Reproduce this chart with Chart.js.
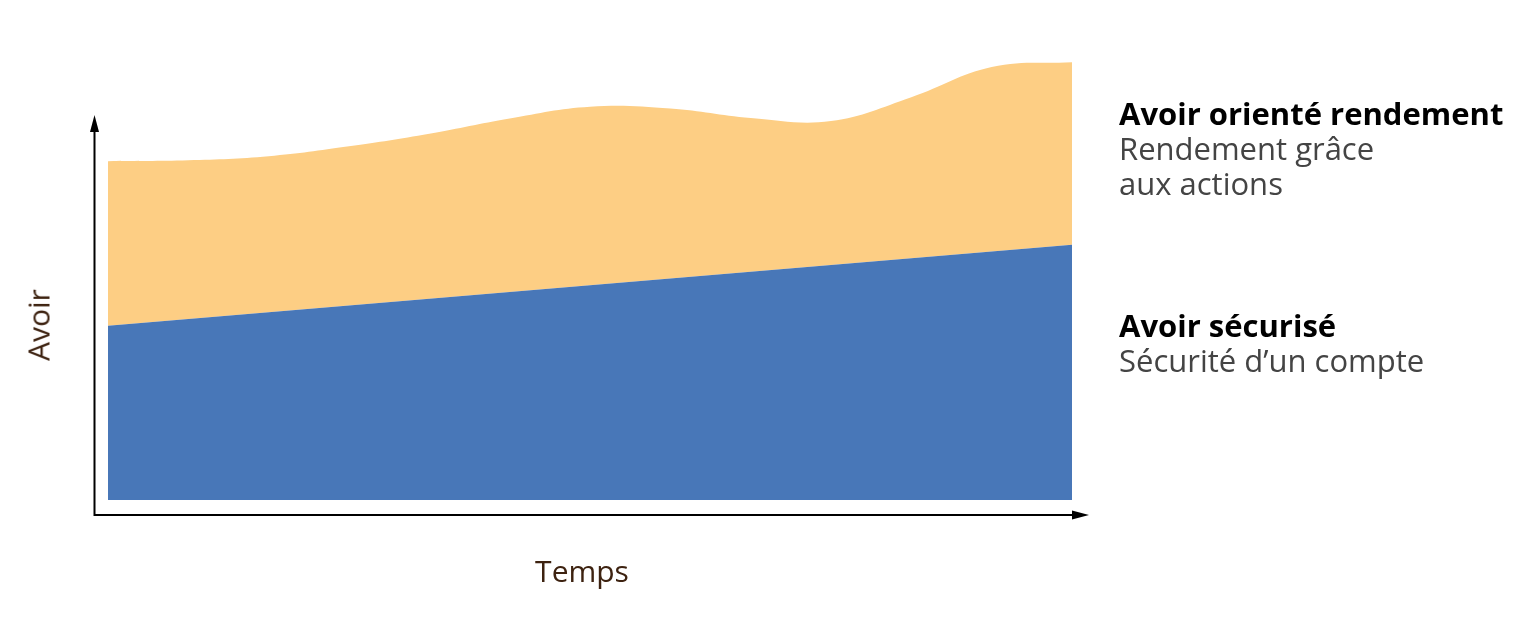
<!DOCTYPE html>
<html>
<head>
<meta charset="utf-8">
<script src="https://cdn.jsdelivr.net/npm/chart.js@4.4.1/dist/chart.umd.min.js"></script>
<style>
  html, body { margin: 0; padding: 0; background: #fff; }
  #wrap { position: relative; width: 1536px; height: 630px; }
  canvas { position: absolute; left: 0; top: 0; }
  .lbl { position: absolute; font-family: "Open Sans", Lato, sans-serif; white-space: nowrap; }
  .axis { color: #3d2210; font-size: 30px; }
  .leg { left: 1119px; font-size: 31px; line-height: 35px; color: #444; }
  .leg b { color: #000; font-weight: 700; }
</style>
</head>
<body>
<div id="wrap">
  <canvas id="c" width="1536" height="630"></canvas>
  <div class="lbl axis" style="left:582px; top:550px; transform:translateX(-50%);">Temps</div>
  <div class="lbl axis" style="left:38px; top:325px; transform:translate(-50%,-50%) rotate(-90deg);">Avoir</div>
  <div class="lbl leg" style="top:96px;"><b>Avoir orienté rendement</b><br>Rendement grâce<br>aux actions</div>
  <div class="lbl leg" style="top:308px;"><b>Avoir sécurisé</b><br>Sécurité d’un compte</div>
</div>
<script>
const categories = ["t0","t1","t2","t3","t4","t5","t6","t7","t8","t9","t10","t11","t12"];
const securedValues = [38.7, 40.2, 41.7, 43.2, 44.7, 46.2, 47.7, 49.2, 50.7, 52.2, 53.7, 55.2, 56.7];
const totalValues   = [75.3, 75.5, 76.4, 78.6, 81.4, 84.8, 87.4, 87.0, 84.9, 84.2, 89.5, 96.2, 97.3];
const seriesNames = ["Avoir sécurisé", "Avoir orienté rendement"];

const axesPlugin = {
  id: 'arrowAxes',
  afterDraw(chart) {
    const ctx = chart.ctx;
    const a = chart.chartArea;
    const ox = a.left - 13.5, oy = a.bottom + 15;
    const topY = 115, rightX = 1089;
    ctx.save();
    ctx.strokeStyle = '#000';
    ctx.fillStyle = '#000';
    ctx.lineWidth = 2;
    ctx.beginPath();
    ctx.moveTo(ox, oy);
    ctx.lineTo(ox, topY + 12);
    ctx.moveTo(ox - 1, oy);
    ctx.lineTo(rightX - 12, oy);
    ctx.stroke();
    ctx.beginPath();
    ctx.moveTo(ox, topY);
    ctx.lineTo(ox - 4.5, topY + 17);
    ctx.lineTo(ox + 4.5, topY + 17);
    ctx.closePath();
    ctx.fill();
    ctx.beginPath();
    ctx.moveTo(rightX, oy);
    ctx.lineTo(rightX - 17, oy - 4.5);
    ctx.lineTo(rightX - 17, oy + 4.5);
    ctx.closePath();
    ctx.fill();
    ctx.restore();
  }
};

new Chart(document.getElementById('c'), {
  type: 'line',
  data: {
    labels: categories,
    datasets: [
      {
        label: seriesNames[0],
        data: securedValues,
        fill: 'origin',
        backgroundColor: '#4877b8',
        borderWidth: 0,
        pointRadius: 0,
        tension: 0
      },
      {
        label: seriesNames[1],
        data: totalValues,
        fill: '-1',
        backgroundColor: '#fdce84',
        borderWidth: 0,
        pointRadius: 0,
        tension: 0.4
      }
    ]
  },
  options: {
    responsive: false,
    animation: false,
    devicePixelRatio: 1,
    layout: { padding: { left: 108, right: 464, top: 50, bottom: 130 } },
    plugins: { legend: { display: false }, tooltip: { enabled: false } },
    scales: {
      x: { display: false, offset: false },
      y: { display: false, min: 0, max: 100 }
    }
  },
  plugins: [axesPlugin]
});
</script>
</body>
</html>
